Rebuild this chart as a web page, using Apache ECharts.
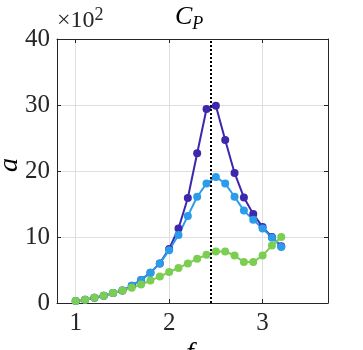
<!DOCTYPE html>
<html>
<head>
<meta charset="UTF-8">
<script src="https://cdn.jsdelivr.net/npm/echarts@6/dist/echarts.min.js"></script>
<style>
  body { margin: 0; background: #fff; }
  #chart { width: 363px; height: 350px; }
</style>
</head>
<body>
<div id="chart"></div>
<script>
// f values (same for all three series)
const fVals = [1.0, 1.1, 1.2, 1.3, 1.4, 1.5, 1.6, 1.7, 1.8, 1.9, 2.0, 2.1, 2.2, 2.3, 2.4, 2.5, 2.6, 2.7, 2.8, 2.9, 3.0, 3.1, 3.2];
// a values, in units of 10^2
const purpleVals = [0.3, 0.5, 0.8, 1.1, 1.5, 1.9, 2.6, 3.5, 4.6, 6.0, 8.2, 11.3, 15.9, 22.7, 29.4, 29.9, 24.7, 19.7, 16.0, 13.5, 11.5, 10.0, 8.6];
const blueVals   = [0.3, 0.5, 0.8, 1.1, 1.5, 1.9, 2.6, 3.5, 4.6, 6.0, 8.0, 10.3, 13.2, 16.1, 18.1, 19.1, 18.1, 16.1, 14.0, 12.6, 11.3, 9.9, 8.5];
const greenVals  = [0.3, 0.5, 0.8, 1.1, 1.5, 1.9, 2.3, 2.8, 3.4, 4.0, 4.7, 5.3, 6.0, 6.7, 7.3, 7.8, 7.8, 7.2, 6.2, 6.2, 7.2, 8.7, 10.0];
const xTicks = [1, 2, 3];
const fMark = 2.45;

const serif = "'Liberation Serif', 'DejaVu Serif', serif";
const axisCol = '#262626';

function pairs(ys) {
  return fVals.map((x, i) => [x, ys[i]]);
}

function lineSeries(name, ys, color) {
  return {
    name: name,
    type: 'line',
    data: pairs(ys),
    symbol: 'circle',
    symbolSize: 8,
    lineStyle: { color: color, width: 2 },
    itemStyle: { color: color },
    z: 3
  };
}

const chart = echarts.init(document.getElementById('chart'));
const purple = lineSeries('purple', purpleVals, '#3d27ad');
purple.markLine = {
  silent: true,
  symbol: 'none',
  label: { show: false },
  lineStyle: { color: '#000', type: 'dotted', width: 2 },
  data: [{ xAxis: fMark }]
};

chart.setOption({
  animation: false,
  graphic: [{
    type: 'text',
    left: 57,
    top: 6,
    style: {
      text: '{t|\u00d710}{s|2}',
      rich: {
        t: { fontFamily: serif, fontSize: 24, fill: '#262626' },
        s: { fontFamily: serif, fontSize: 18, fill: '#262626', verticalAlign: 'top', padding: [0, 0, 12, 0] }
      }
    }
  }, {
    type: 'text',
    left: 175,
    top: 4,
    style: {
      text: '{c|C}{p|P}',
      rich: {
        c: { fontFamily: serif, fontStyle: 'italic', fontSize: 26, fill: '#000' },
        p: { fontFamily: serif, fontStyle: 'italic', fontSize: 18, fill: '#000', verticalAlign: 'bottom', padding: [14, 0, 0, 0] }
      }
    }
  }, {
    type: 'text',
    left: 186,
    top: 340,
    style: { text: 'f', fontFamily: serif, fontStyle: 'italic', fontSize: 28, fill: '#000' }
  }, {
    type: 'text',
    left: -4,
    top: 158,
    style: { text: 'a', fontFamily: serif, fontStyle: 'italic', fontSize: 28, fill: '#000' },
    rotation: Math.PI / 2,
    originX: 10,
    originY: 12
  }],
  grid: { left: 57, right: 35, top: 39, bottom: 47, show: false, outerBoundsMode: 'none', containLabel: false },
  xAxis: [{
    type: 'value',
    min: 0.8,
    max: 3.7,
    axisLine: { show: true, onZero: false, lineStyle: { color: axisCol, width: 1 } },
    axisTick: { show: true, inside: true, length: 4, customValues: xTicks, lineStyle: { color: axisCol } },
    axisLabel: { customValues: xTicks, fontFamily: serif, fontSize: 25, color: '#262626', margin: 8 },
    splitLine: { show: true, lineStyle: { color: '#dfdfdf', width: 1 } }
  }, {
    type: 'value',
    position: 'top',
    min: 0.8,
    max: 3.7,
    axisLine: { show: true, onZero: false, lineStyle: { color: axisCol, width: 1 } },
    axisTick: { show: true, inside: true, length: 4, customValues: xTicks, lineStyle: { color: axisCol } },
    axisLabel: { show: false },
    splitLine: { show: false }
  }],
  yAxis: [{
    type: 'value',
    min: 0,
    max: 40,
    interval: 10,
    axisLine: { show: true, lineStyle: { color: axisCol, width: 1 } },
    axisTick: { show: true, inside: true, length: 4, lineStyle: { color: axisCol } },
    axisLabel: { fontFamily: serif, fontSize: 25, color: '#262626', margin: 7 },
    splitLine: { show: true, lineStyle: { color: '#dfdfdf', width: 1 } }
  }, {
    type: 'value',
    position: 'right',
    min: 0,
    max: 40,
    interval: 10,
    axisLine: { show: true, lineStyle: { color: axisCol, width: 1 } },
    axisTick: { show: true, inside: true, length: 4, lineStyle: { color: axisCol } },
    axisLabel: { show: false },
    splitLine: { show: false }
  }],
  series: [
    purple,
    lineSeries('blue', blueVals, '#2b9cea'),
    lineSeries('green', greenVals, '#7cce52')
  ]
});
</script>
</body>
</html>
